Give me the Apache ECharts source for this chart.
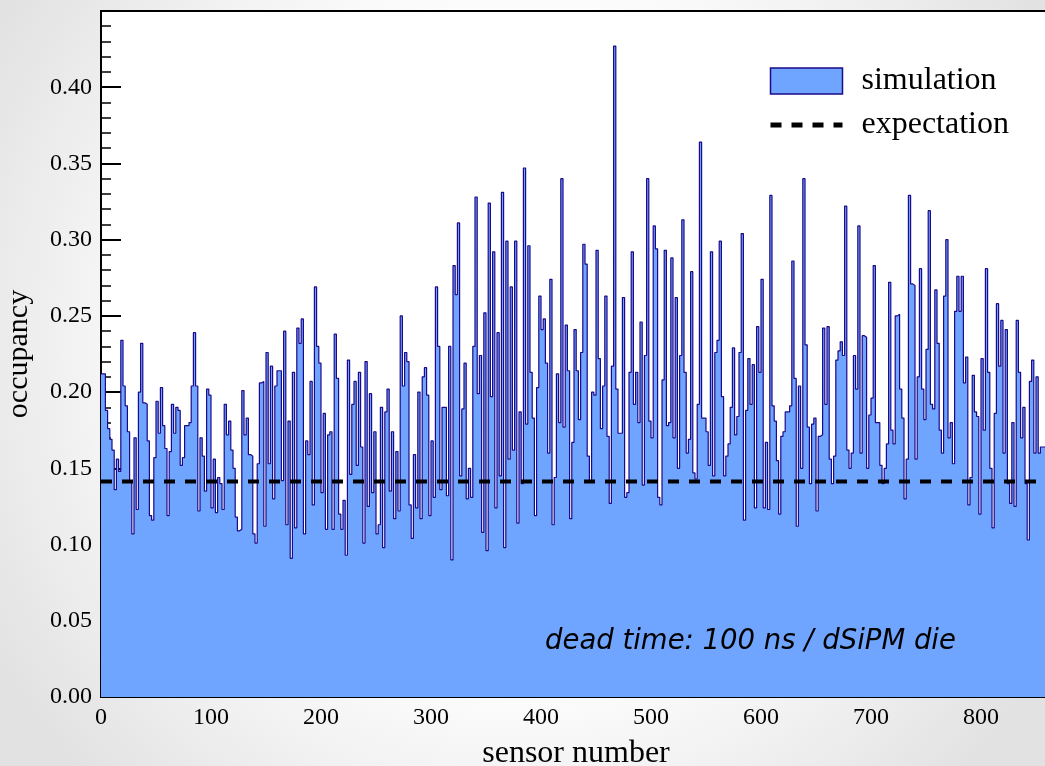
<!DOCTYPE html>
<html><head><meta charset="utf-8">
<script src="https://cdn.jsdelivr.net/npm/echarts@6/dist/echarts.min.js"></script>
<style>html,body{margin:0;padding:0;background:#fff}#c{width:1045px;height:766px}</style>
</head><body><div id="c"></div>
<script>
// occupancy per bin (each bin = 2 sensors), left to right
const occSeg1 = [0.212,0.212,0.188,0.176,0.169,0.162,0.136,0.156,0.148,0.234,0.204,0.191,0.174,0.141,0.107,0.170,0.123,0.200,0.232,0.193,0.192,0.168,0.119,0.116,0.157,0.194,0.173,0.203,0.178,0.163,0.119,0.161,0.192,0.173,0.190,0.188,0.152,0.157,0.178];
const occSeg2 = [0.178,0.180,0.204,0.239,0.204,0.122,0.170,0.158,0.135,0.202,0.198,0.124,0.156,0.121,0.144,0.140,0.123,0.192,0.172,0.181,0.162,0.150,0.118,0.109,0.110,0.201,0.172,0.183,0.159,0.158,0.107,0.101,0.153,0.206,0.207,0.112,0.226,0.153,0.217];
const occSeg3 = [0.130,0.204,0.214,0.214,0.142,0.240,0.113,0.181,0.091,0.213,0.111,0.242,0.232,0.248,0.107,0.168,0.159,0.207,0.126,0.269,0.230,0.219,0.134,0.186,0.110,0.172,0.174,0.110,0.238,0.209,0.120,0.110,0.129,0.093,0.221,0.146,0.192,0.207,0.152];
const occSeg4 = [0.213,0.164,0.101,0.220,0.125,0.199,0.134,0.174,0.107,0.113,0.190,0.098,0.187,0.202,0.135,0.174,0.117,0.161,0.122,0.250,0.204,0.226,0.220,0.126,0.104,0.159,0.124,0.200,0.117,0.210,0.216,0.198,0.119,0.168,0.131,0.269,0.230,0.136,0.190];
const occSeg5 = [0.190,0.132,0.230,0.090,0.283,0.264,0.311,0.145,0.189,0.219,0.130,0.150,0.131,0.230,0.328,0.199,0.224,0.108,0.252,0.096,0.324,0.197,0.292,0.124,0.239,0.145,0.331,0.098,0.299,0.156,0.269,0.162,0.299,0.114,0.187,0.140,0.347,0.179,0.296];
const occSeg6 = [0.213,0.183,0.119,0.203,0.263,0.241,0.248,0.219,0.160,0.274,0.113,0.144,0.212,0.180,0.340,0.177,0.244,0.214,0.117,0.167,0.241,0.214,0.182,0.226,0.297,0.284,0.158,0.141,0.200,0.198,0.293,0.222,0.176,0.204,0.263,0.171,0.127,0.217,0.427];
const occSeg7 = [0.202,0.173,0.173,0.262,0.131,0.134,0.213,0.292,0.192,0.213,0.180,0.246,0.139,0.224,0.340,0.181,0.170,0.309,0.294,0.131,0.126,0.208,0.293,0.178,0.180,0.288,0.170,0.262,0.150,0.224,0.313,0.213,0.160,0.169,0.279,0.147,0.143,0.192,0.364];
const occSeg8 = [0.183,0.183,0.174,0.152,0.292,0.145,0.226,0.234,0.299,0.197,0.145,0.158,0.166,0.190,0.229,0.172,0.184,0.226,0.304,0.116,0.188,0.222,0.192,0.218,0.124,0.243,0.213,0.274,0.124,0.167,0.123,0.329,0.191,0.181,0.155,0.120,0.171,0.174,0.187];
const occSeg9 = [0.187,0.191,0.286,0.209,0.112,0.204,0.150,0.340,0.231,0.177,0.140,0.179,0.183,0.122,0.171,0.172,0.242,0.192,0.243,0.156,0.140,0.158,0.221,0.227,0.233,0.224,0.322,0.162,0.150,0.160,0.224,0.202,0.309,0.160,0.237,0.236,0.150,0.185,0.196];
const occSeg10 = [0.283,0.180,0.180,0.152,0.140,0.150,0.166,0.272,0.175,0.166,0.250,0.251,0.202,0.183,0.130,0.156,0.329,0.271,0.270,0.156,0.210,0.281,0.202,0.182,0.228,0.319,0.192,0.189,0.267,0.232,0.175,0.160,0.263,0.300,0.170,0.180,0.153,0.253,0.276];
const occSeg11 = [0.253,0.276,0.206,0.223,0.126,0.144,0.211,0.187,0.184,0.120,0.222,0.175,0.281,0.213,0.150,0.111,0.186,0.258,0.217,0.247,0.160,0.241,0.140,0.127,0.180,0.125,0.247,0.213,0.170,0.190,0.140,0.103,0.207,0.221,0.160,0.210,0.160,0.164,0.164,0.164];
const sensorsPerBin = 2;
const expectation = 0.1414;
const seriesNames = ['simulation', 'expectation'];
const axisTitles = {x: 'sensor number', y: 'occupancy'};
const note = 'dead time: 100 ns / dSiPM die';

const occupancy = [].concat(occSeg1, occSeg2, occSeg3, occSeg4, occSeg5, occSeg6, occSeg7, occSeg8, occSeg9, occSeg10, occSeg11);
const simData = occupancy.map((v, i) => [i * sensorsPerBin, v]);
simData.push([occupancy.length * sensorsPerBin, occupancy[occupancy.length - 1]]);

const serif = 'Liberation Serif';
const chart = echarts.init(document.getElementById('c'), null, {renderer: 'canvas'});
chart.setOption({
  animation: false,
  backgroundColor: {type: 'radial', x: 0.5, y: 0.45, r: 0.8,
    colorStops: [{offset: 0, color: '#ffffff'}, {offset: 0.55, color: '#fdfdfd'}, {offset: 1, color: '#e2e2e2'}]},
  grid: {left: 101, top: 11, width: 968, height: 686, show: true, containLabel: false, outerBoundsMode: 'none',
    backgroundColor: '#ffffff', borderColor: '#000', borderWidth: 2},
  legend: {
    left: 768, top: 65, orient: 'vertical', padding: 0, itemWidth: 72, itemHeight: 26, itemGap: 12,
    textStyle: {fontFamily: serif, fontSize: 32, color: '#000', padding: [2, 0, 0, 14]},
    data: [
      {name: seriesNames[0], icon: 'rect', itemStyle: {color: '#6fa4ff', borderColor: '#1b0a8a', borderWidth: 1.5}},
      {name: seriesNames[1], itemStyle: {opacity: 0}, lineStyle: {color: '#000', width: 5, type: [11, 10]}}
    ]
  },
  xAxis: {
    type: 'value', min: 0, max: 880, interval: 100,
    name: axisTitles.x, nameLocation: 'middle', nameGap: 41,
    nameTextStyle: {fontFamily: serif, fontSize: 32, color: '#000', padding: [0, 18, 0, 0]},
    axisLine: {show: true, onZero: false, lineStyle: {color: '#000', width: 2}},
    axisTick: {show: true, inside: true, length: 13, lineStyle: {color: '#000', width: 2}},
    minorTick: {show: true, splitNumber: 5, length: 7, lineStyle: {color: '#000', width: 1.5}},
    splitLine: {show: false}, minorSplitLine: {show: false},
    axisLabel: {fontFamily: serif, fontSize: 24, color: '#000', margin: 9}
  },
  yAxis: {
    type: 'value', min: 0, max: 0.45, interval: 0.05,
    name: axisTitles.y, nameLocation: 'middle', nameRotate: 90, nameGap: 67,
    nameTextStyle: {fontFamily: serif, fontSize: 30, color: '#000'},
    axisLine: {show: true, lineStyle: {color: '#000', width: 2}},
    axisTick: {show: true, inside: true, length: 20, lineStyle: {color: '#000', width: 2}},
    minorTick: {show: true, splitNumber: 5, length: 10, lineStyle: {color: '#000', width: 1.5}},
    splitLine: {show: false}, minorSplitLine: {show: false},
    axisLabel: {fontFamily: serif, fontSize: 24, color: '#000', margin: 9, showMaxLabel: false,
      formatter: v => v.toFixed(2)}
  },
  series: [
    {name: seriesNames[0], type: 'line', step: 'end', data: simData, symbol: 'none', z: 2,
     lineStyle: {color: '#1b0a8a', width: 1.2}, itemStyle: {color: '#6fa4ff'},
     areaStyle: {color: '#6fa4ff', opacity: 1}},
    {name: seriesNames[1], type: 'line', data: [[0, expectation], [880, expectation]], symbol: 'none', z: 3,
     lineStyle: {color: '#000', width: 4, type: [11, 10]}, itemStyle: {color: '#000'}}
  ],
  graphic: [{type: 'text', left: 545, top: 628, z: 10,
    style: {text: note, font: 'italic 27.5px "DejaVu Sans"', fill: '#000'}}]
});
</script></body></html>
